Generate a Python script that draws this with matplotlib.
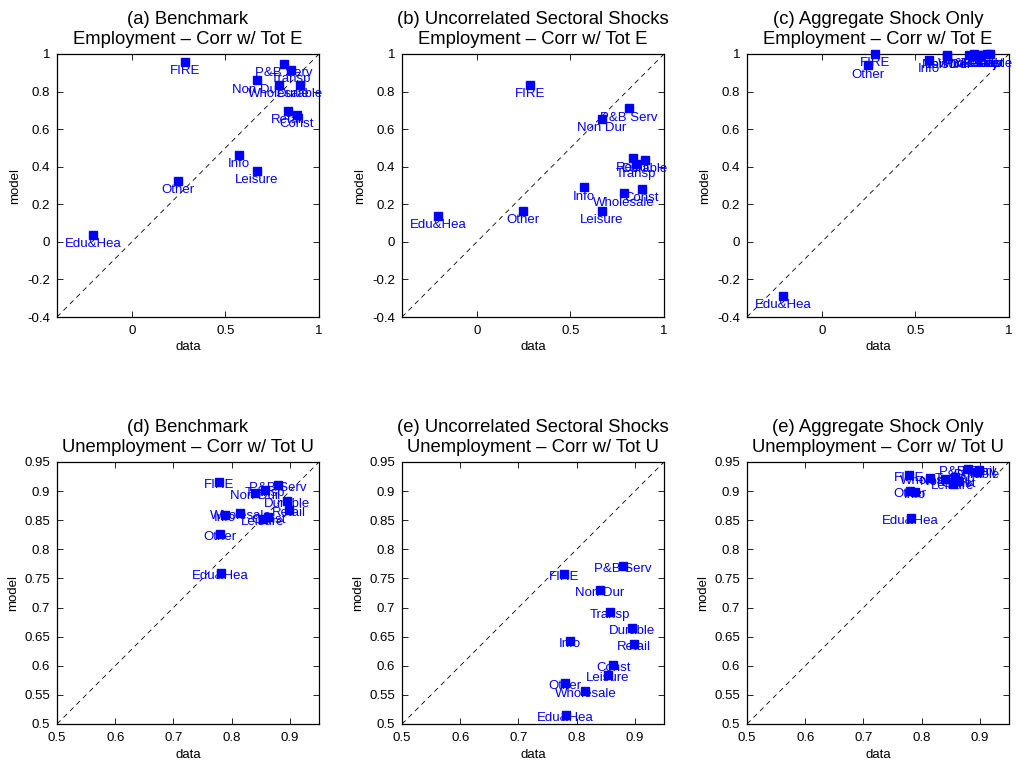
import numpy as np
import matplotlib
matplotlib.use('Agg')
import matplotlib.pyplot as plt

plt.rcParams['font.family'] = ['Liberation Sans', 'DejaVu Sans']

sectors = ['FIRE', 'P&B Serv', 'Transp', 'Non Dur', 'Wholesale', 'Durable',
           'Retail', 'Const', 'Info', 'Leisure', 'Other', 'Edu&Hea']

# employment: correlation with total E
emp_data = [0.283, 0.813, 0.848, 0.667, 0.784, 0.901, 0.832, 0.882, 0.573, 0.668, 0.246, -0.205]
emp_bench = [0.960, 0.947, 0.915, 0.860, 0.835, 0.835, 0.697, 0.676, 0.463, 0.378, 0.324, 0.037]
emp_uncorr = [0.836, 0.711, 0.413, 0.654, 0.258, 0.436, 0.445, 0.281, 0.290, 0.164, 0.164, 0.139]
emp_agg = [1.000, 0.998, 0.997, 0.993, 0.995, 0.999, 0.997, 0.998, 0.970, 0.990, 0.940, -0.287]

# unemployment: correlation with total U
unemp_data = [0.778, 0.880, 0.857, 0.840, 0.815, 0.895, 0.898, 0.863, 0.788, 0.854, 0.780, 0.781]
unemp_bench = [0.915, 0.910, 0.902, 0.896, 0.862, 0.883, 0.868, 0.855, 0.859, 0.852, 0.826, 0.759]
unemp_uncorr = [0.757, 0.771, 0.692, 0.730, 0.556, 0.665, 0.638, 0.602, 0.643, 0.584, 0.571, 0.515]
unemp_agg = [0.928, 0.938, 0.925, 0.921, 0.923, 0.933, 0.937, 0.917, 0.898, 0.913, 0.900, 0.854]

emp_sub = 'Employment \u2013 Corr w/ Tot E'
unemp_sub = 'Unemployment \u2013 Corr w/ Tot U'


def panel(ax, x, y, title, lims, xticks, yticks, dy):
	ax.plot(lims, lims, color='k', ls=(0, (6, 5)), lw=0.6)
	ax.plot(x, y, 's', color=(0, 0, 1), ms=5.8, clip_on=False, zorder=3)
	for name, xi, yi in zip(sectors, x, y):
		ax.text(xi, yi - dy, name, color=(0, 0, 1), fontsize=9.5, ha='center', va='center')
	ax.set_xlim(lims)
	ax.set_ylim(lims)
	ax.set_xticks(xticks)
	ax.set_yticks(yticks)
	ax.set_xticklabels(['%g' % t for t in xticks])
	ax.set_yticklabels(['%g' % t for t in yticks])
	ax.tick_params(direction='in', top=True, right=True, labelsize=9.5, length=4, width=0.6)
	ax.tick_params(axis='x', pad=6)
	ax.tick_params(axis='y', pad=5)
	for s in ax.spines.values():
		s.set_linewidth(0.9)
	ax.set_title(title, fontsize=13.3, linespacing=1.25, pad=7)
	ax.set_xlabel('data', fontsize=9.5, labelpad=3)
	ax.set_ylabel('model', fontsize=9.5, labelpad=4)


fig = plt.figure(figsize=(10.17, 7.65), dpi=100)
W, H = 1017., 765.
lefts = [57, 402, 747]
w = 262 / W

top_lims = [-0.4, 1]
top_xt = [0, 0.5, 1]
top_yt = [-0.4, -0.2, 0, 0.2, 0.4, 0.6, 0.8, 1]
bot_lims = [0.5, 0.95]
bot_xt = [0.5, 0.6, 0.7, 0.8, 0.9]
bot_yt = [0.5, 0.55, 0.6, 0.65, 0.7, 0.75, 0.8, 0.85, 0.9, 0.95]

top = [(emp_bench, '(a) Benchmark'), (emp_uncorr, '(b) Uncorrelated Sectoral Shocks'),
	(emp_agg, '(c) Aggregate Shock Only')]
bot = [(unemp_bench, '(d) Benchmark'), (unemp_uncorr, '(e) Uncorrelated Sectoral Shocks'),
	(unemp_agg, '(e) Aggregate Shock Only')]

for i, (m, t) in enumerate(top):
	ax = fig.add_axes([lefts[i] / W, (H - 317) / H, w, 263 / H])
	panel(ax, emp_data, m, t + '\n' + emp_sub, top_lims, top_xt, top_yt, 0.05)

for i, (m, t) in enumerate(bot):
	ax = fig.add_axes([lefts[i] / W, (H - 724) / H, w, 262 / H])
	panel(ax, unemp_data, m, t + '\n' + unemp_sub, bot_lims, bot_xt, bot_yt, 0.005)

plt.savefig('out.png', dpi=100)
plt.close()
